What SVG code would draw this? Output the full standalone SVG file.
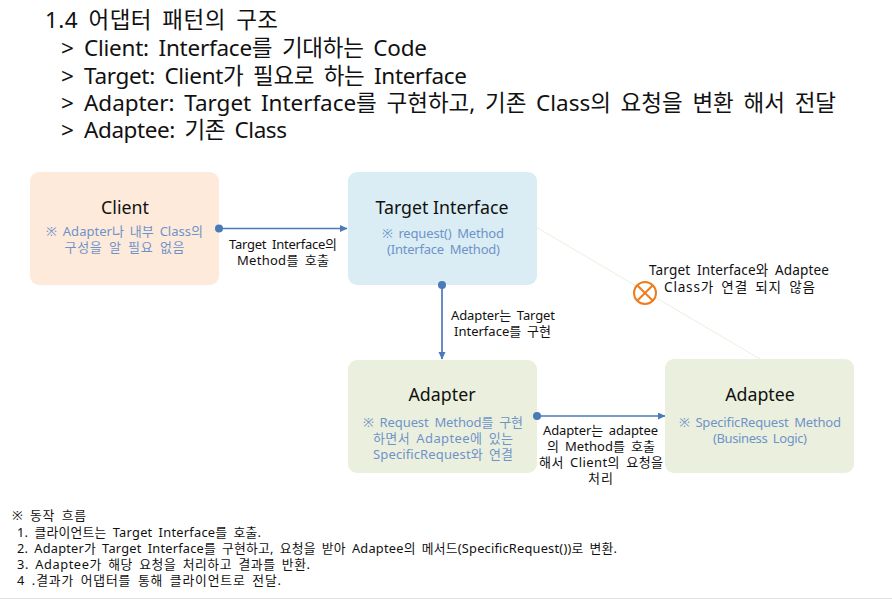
<svg xmlns="http://www.w3.org/2000/svg" width="892" height="600" viewBox="0 0 892 600">
<style>
text{font-family:"Noto Sans","Noto Sans CJK KR",sans-serif;fill:#111}
.h{font-size:22.500px;word-spacing:4px}
.t{font-size:17.800px;text-anchor:middle}
.s{font-size:13px;text-anchor:middle;fill:#6f93c9;word-spacing:2.500px}
.l{font-size:13px;text-anchor:middle;word-spacing:2.500px}
.w{font-size:13.600px;text-anchor:middle;word-spacing:3px}
.f{font-size:12.800px;word-spacing:2.500px}
.c{stroke:#4a7ab8;stroke-width:1.7;fill:none}
.d{fill:#4a7ab8}
</style>
<defs><marker id="a" markerWidth="8" markerHeight="8" refX="7" refY="3.500" orient="auto" markerUnits="userSpaceOnUse"><path d="M0 0L7.500 3.500L0 7z" fill="#4a7ab8"/></marker></defs>
<rect width="892" height="600" fill="#fff"/>
<g id="heading">
<text class="h" x="45" y="28" textLength="233">1.4 어댑터 패턴의 구조</text>
<text class="h" x="61" y="56">&gt;</text><text class="h" x="84" y="56" textLength="343">Client: Interface를 기대하는 Code</text>
<text class="h" x="61" y="84">&gt;</text><text class="h" x="84" y="84" textLength="383">Target: Client가 필요로 하는 Interface</text>
<text class="h" x="61" y="111">&gt;</text><text class="h" x="84" y="111" textLength="752">Adapter: Target Interface를 구현하고, 기존 Class의 요청을 변환 해서 전달</text>
<text class="h" x="61" y="138">&gt;</text><text class="h" x="84" y="138" textLength="203">Adaptee: 기존 Class</text>
</g>
<line x1="536" y1="227" x2="760" y2="359" stroke="#ecefdc" stroke-width="1"/>
<g id="client"><rect x="30" y="172" width="189" height="113" rx="9" fill="#fdeadb"/>
<text class="t" x="125" y="214">Client</text>
<text class="s" x="124.500" y="236" textLength="157">※ Adapter나 내부 Class의</text><text class="s" x="124.500" y="252" textLength="120">구성을 알 필요 없음</text></g>
<g id="target"><rect x="348" y="172" width="189" height="113" rx="9" fill="#daedf4"/>
<text class="t" x="442" y="214">Target Interface</text>
<text class="s" x="443" y="238" textLength="122">※ request() Method</text><text class="s" x="443.500" y="254" textLength="113">(Interface Method)</text></g>
<g id="adapter"><rect x="348" y="360" width="189" height="113" rx="9" fill="#ebf0de"/>
<text class="t" x="442" y="401">Adapter</text>
<text class="s" x="443" y="427" textLength="160">※ Request Method를 구현</text><text class="s" x="443" y="443" textLength="140">하면서 Adaptee에 있는</text><text class="s" x="443" y="459" textLength="140">SpecificRequest와 연결</text></g>
<g id="adaptee"><rect x="665" y="359" width="189" height="114" rx="9" fill="#ebf0de"/>
<text class="t" x="760" y="401">Adaptee</text>
<text class="s" x="760" y="427" textLength="162">※ SpecificRequest Method</text><text class="s" x="760" y="443" textLength="94">(Business Logic)</text></g>
<g id="connectors">
<line class="c" x1="219" y1="228.500" x2="347" y2="228.500" marker-end="url(#a)"/><circle class="d" cx="219" cy="228.500" r="4"/>
<line class="c" x1="442" y1="285" x2="442" y2="359" marker-end="url(#a)"/><circle class="d" cx="442" cy="285" r="4"/>
<line class="c" x1="537" y1="416" x2="665" y2="416" marker-end="url(#a)"/><circle class="d" cx="537" cy="416" r="4"/>
</g>
<g id="labels">
<text class="l" x="283" y="249" textLength="108">Target Interface의</text><text class="l" x="283" y="265" textLength="92">Method를 호출</text>
<text class="l" x="503" y="320" textLength="104">Adapter는 Target</text><text class="l" x="502.500" y="336" textLength="97">Interface를 구현</text>
<text class="l" x="600.500" y="435" textLength="115">Adapter는 adaptee</text><text class="l" x="601" y="451" textLength="108">의 Method를 호출</text><text class="l" x="601" y="467" textLength="124">해서 Client의 요청을</text><text class="l" x="600.500" y="483" textLength="25">처리</text>
<text class="w" x="739" y="275" textLength="180">Target Interface와 Adaptee</text><text class="w" x="739.500" y="292" textLength="151">Class가 연결 되지 않음</text>
</g>
<g id="no-link"><circle cx="645" cy="293" r="11" fill="#fff" stroke="#ed7d1f" stroke-width="2"/><path d="M637.200 285.200L652.800 300.800M652.800 285.200L637.200 300.800" stroke="#ed7d1f" stroke-width="2"/></g>
<g id="notes">
<text class="f" x="12" y="520" textLength="74">※ 동작 흐름</text>
<text class="f" x="17" y="537" textLength="244">1. 클라이언트는 Target Interface를 호출.</text>
<text class="f" x="17" y="553" textLength="600">2. Adapter가 Target Interface를 구현하고, 요청을 받아 Adaptee의 메서드(SpecificRequest())로 변환.</text>
<text class="f" x="17" y="569" textLength="293">3. Adaptee가 해당 요청을 처리하고 결과를 반환.</text>
<text class="f" x="17" y="585" textLength="264">4 .결과가 어댑터를 통해 클라이언트로 전달.</text>
</g>
<line x1="0" y1="598.500" x2="892" y2="598.500" stroke="#e2e2e2"/>
</svg>
